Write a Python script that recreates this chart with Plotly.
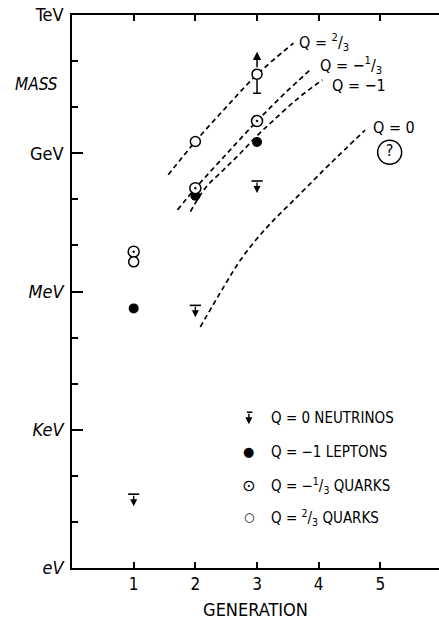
import math
import plotly.graph_objects as go

# ---------------- data ----------------
generations = [1, 2, 3]
quark_up_mass = [4.4e6, 1.8e9, 5.2e10]       # Q = 2/3 quarks (u, c, t)
quark_down_mass = [7.3e6, 1.75e8, 5.0e9]     # Q = -1/3 quarks (d, s, b)
lepton_mass = [4.3e5, 1.2e8, 1.75e9]         # Q = -1 leptons (e, mu, tau)
neutrino_limit = [40, 5.0e5, 2.5e8]          # Q = 0 neutrino upper limits

top_generation = [3]
top_mass = [5.2e10]
top_lower_bound = [2.0e10]
top_arrow_tip = [1.6e11]

unknown_generation = [5.15]
unknown_mass = [1.05e9]

curve_q23_gen = [1.56, 2.0, 2.5, 3.0, 3.59]
curve_q23_mass = [3.4e8, 1.8e9, 1.0e10, 5.1e10, 2.45e11]

curve_qm13_gen = [1.71, 2.0, 2.5, 3.0, 3.45, 3.88]
curve_qm13_mass = [5.9e7, 1.74e8, 9.5e8, 5.0e9, 2.0e10, 6.8e10]

curve_qm1_gen = [1.92, 2.16, 2.46, 2.73, 3.0, 3.24, 3.65, 4.06]
curve_qm1_mass = [5.4e7, 1.74e8, 4.4e8, 1.0e9, 2.4e9, 4.8e9, 1.5e10, 3.9e10]

curve_q0_gen = [2.08, 2.46, 2.73, 3.0, 3.27, 3.54, 3.81, 4.19, 4.75]
curve_q0_mass = [1.7e5, 1.26e6, 4.8e6, 1.41e7, 3.55e7, 8.1e7, 1.86e8, 6.0e8, 3.16e9]

curve_labels = ["Q = <sup>2</sup>/<sub>3</sub>", "Q = −<sup>1</sup>/<sub>3</sub>", "Q = −1", "Q = 0"]
curve_label_gen = [3.65, 3.99, 4.19, 4.85]
curve_label_mass = [2.55e11, 8.1e10, 3.0e10, 3.7e9]

mass_tick_vals = [1, 1e3, 1e6, 1e9, 1e12]
mass_tick_text = ["<i>eV</i>", "<i>KeV</i>", "<i>MeV</i>", "GeV", "TeV"]
decade_vals = [10 ** k for k in range(13)]
gen_tick_vals = [1, 2, 3, 4, 5]

legend_symbols = ["", "●", "⊙", "○"]
legend_symbol_sizes = [14, 13, 16, 12]
legend_labels = ["Q = 0 NEUTRINOS", "Q = −1 LEPTONS",
                 "Q = −<sup>1</sup>/<sub>3</sub> QUARKS", "Q = <sup>2</sup>/<sub>3</sub> QUARKS"]

# ---------------- figure ----------------
FONT = "DejaVu Sans Condensed, DejaVu Sans, sans-serif"
BLACK = "black"
dash = "5px,3.5px"
PLOT_H = 621 - 15 - 53
PLOT_W = 439 - 72
DECADE_PX = PLOT_H / 12.0

fig = go.Figure()

for gx, gy in [(curve_q23_gen, curve_q23_mass), (curve_qm13_gen, curve_qm13_mass),
               (curve_qm1_gen, curve_qm1_mass), (curve_q0_gen, curve_q0_mass)]:
    fig.add_trace(go.Scatter(x=gx, y=gy, mode="lines",
                             line=dict(color=BLACK, width=1.7, dash=dash, shape="spline"),
                             showlegend=False, hoverinfo="skip"))

fig.add_trace(go.Scatter(x=generations, y=lepton_mass, mode="markers",
                         marker=dict(symbol="circle", size=10, color=BLACK),
                         showlegend=False))
fig.add_trace(go.Scatter(x=generations, y=quark_down_mass, mode="markers",
                         marker=dict(symbol="circle-dot", size=11, color="white",
                                     line=dict(color=BLACK, width=1.5)),
                         showlegend=False))
fig.add_trace(go.Scatter(x=generations[:2], y=quark_up_mass[:2], mode="markers",
                         marker=dict(symbol="circle", size=10, color="white",
                                     line=dict(color=BLACK, width=1.5)),
                         showlegend=False))
fig.add_trace(go.Scatter(x=top_generation, y=top_mass, mode="markers",
                         marker=dict(symbol="circle", size=10, color="white",
                                     line=dict(color=BLACK, width=1.5)),
                         error_y=dict(type="data", symmetric=False,
                                      array=[0],
                                      arrayminus=[top_mass[0] - top_lower_bound[0]],
                                      color=BLACK, thickness=1.5, width=4),
                         showlegend=False))
# neutrino upper limits: bar at the limit value (arrow added below)
fig.add_trace(go.Scatter(x=generations, y=neutrino_limit, mode="markers",
                         marker=dict(symbol="line-ew", size=8,
                                     line=dict(color=BLACK, width=1.6)),
                         showlegend=False))
fig.add_trace(go.Scatter(x=unknown_generation, y=unknown_mass, mode="markers+text",
                         text=["?"], textposition="middle center",
                         textfont=dict(family=FONT, size=16, color=BLACK),
                         marker=dict(symbol="circle-open", size=24, color=BLACK,
                                     line=dict(width=1.5)),
                         showlegend=False))

annotations = []
# arrow for the top quark lower bound
annotations.append(dict(x=top_generation[0], y=math.log10(top_arrow_tip[0]),
                        ax=top_generation[0], ay=math.log10(top_mass[0]) + 0.12,
                        xref="x", yref="y", axref="x", ayref="y",
                        text="", showarrow=True, arrowhead=2, arrowsize=1.1,
                        arrowwidth=1.5, arrowcolor=BLACK))
# downward arrows of the neutrino limits
for g, lim in zip(generations, neutrino_limit):
    annotations.append(dict(x=g, y=math.log10(lim) - 12 / DECADE_PX, ax=0, ay=-12,
                            xref="x", yref="y", text="", showarrow=True,
                            arrowhead=2, arrowsize=1.0, arrowwidth=1.4,
                            arrowcolor=BLACK))
for txt, gx, gy in zip(curve_labels, curve_label_gen, curve_label_mass):
    annotations.append(dict(x=gx, y=math.log10(gy), xref="x", yref="y", text=txt,
                            showarrow=False, xanchor="left", yanchor="middle",
                            font=dict(family=FONT, size=16, color=BLACK)))
annotations.append(dict(x=-0.097, y=0.876, xref="paper", yref="paper", text="<i>MASS</i>",
                        showarrow=False, xanchor="center", yanchor="middle",
                        font=dict(family=FONT, size=17, color=BLACK)))
legend_rows_y = [0.271, 0.210, 0.150, 0.092]
LEG_X = 0.482
for sym, ssz, lab, ly in zip(legend_symbols, legend_symbol_sizes, legend_labels, legend_rows_y):
    if sym:
        annotations.append(dict(x=LEG_X, y=ly, xref="paper", yref="paper", text=sym,
                                showarrow=False, xanchor="center", yanchor="middle",
                                font=dict(family="DejaVu Sans", size=ssz, color=BLACK)))
    else:
        # neutrino legend symbol: bar with a downward arrow
        annotations.append(dict(x=LEG_X, y=ly - 6 / PLOT_H, ax=0, ay=-12,
                                xref="paper", yref="paper", text="", showarrow=True,
                                arrowhead=2, arrowsize=1.0, arrowwidth=1.4,
                                arrowcolor=BLACK))
        annotations.append(dict(x=LEG_X + 3.5 / PLOT_W, y=ly + 6 / PLOT_H, ax=-7, ay=0,
                                xref="paper", yref="paper", text="", showarrow=True,
                                arrowhead=0, arrowwidth=1.5, arrowcolor=BLACK))
    annotations.append(dict(x=0.538, y=ly, xref="paper", yref="paper", text=lab,
                            showarrow=False, xanchor="left", yanchor="middle",
                            font=dict(family=FONT, size=15, color=BLACK)))

fig.update_layout(
    width=439, height=621,
    margin=dict(l=72, r=0, t=15, b=53),
    paper_bgcolor="white", plot_bgcolor="white",
    showlegend=False,
    annotations=annotations,
    xaxis=dict(range=[0, 5.95], tickvals=gen_tick_vals, ticks="inside", ticklen=6,
               tickwidth=1.5, tickcolor=BLACK, showline=True, linecolor=BLACK,
               linewidth=1.6, mirror="ticks", showgrid=False, zeroline=False,
               automargin=False,
               tickfont=dict(family=FONT, size=17, color=BLACK),
               title=dict(text="GENERATION", standoff=10,
                          font=dict(family=FONT, size=18, color=BLACK))),
    yaxis=dict(type="log", range=[0, 12], tickvals=mass_tick_vals, ticktext=mass_tick_text,
               ticks="inside", ticklen=11, tickwidth=1.5, tickcolor=BLACK,
               showline=True, linecolor=BLACK, linewidth=1.6, mirror=False,
               showgrid=False, zeroline=False, ticklabelstandoff=3, automargin=False,
               tickfont=dict(family=FONT, size=18, color=BLACK),
               minor=dict(tickvals=decade_vals, ticks="inside", ticklen=6,
                          tickwidth=1.5, tickcolor=BLACK, showgrid=False)),
    yaxis2=dict(type="log", range=[0, 12], overlaying="y", side="right",
                tickvals=mass_tick_vals, ticks="inside", ticklen=12, tickwidth=1.5,
                tickcolor=BLACK, showticklabels=False, showline=False,
                showgrid=False, zeroline=False, automargin=False,
                minor=dict(tickvals=decade_vals, ticks="inside", ticklen=5,
                           tickwidth=1.5, tickcolor=BLACK, showgrid=False)),
)

fig.write_html("out.html", config={"displayModeBar": False},
               post_script="document.body.style.margin='0';document.body.style.overflow='hidden';")
